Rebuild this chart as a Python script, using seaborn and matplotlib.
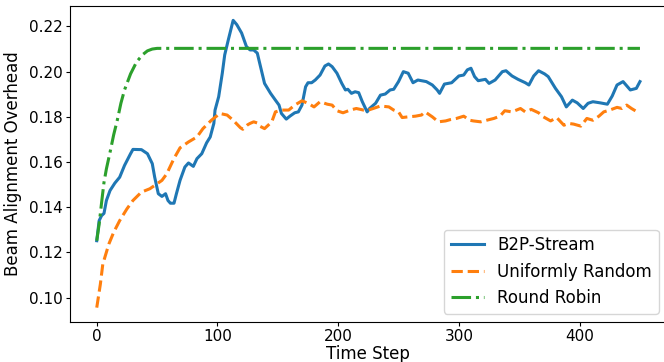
import matplotlib
matplotlib.use('Agg')
import matplotlib.pyplot as plt
import seaborn as sns
import pandas as pd
import numpy as np

# B2P-Stream
b2p_t = [0, 2, 4, 6, 8, 11, 15, 19, 23, 28, 30, 37, 42, 46, 48, 51, 54, 57, 59, 61,
         64, 66, 69, 73, 76, 80, 83, 87, 91, 94, 97, 98, 101, 104, 106, 109, 113, 116, 120, 124,
         127, 130, 133, 135, 139, 144, 148, 151, 153, 157, 160, 164, 167, 170, 173, 175, 178, 181, 185, 189,
         192, 195, 199, 203, 206, 208, 211, 214, 217, 220, 224, 226, 231, 235, 239, 243, 246, 250, 254, 258,
         262, 266, 273, 278, 282, 284, 288, 294, 300, 304, 307, 310, 313, 316, 322, 325, 330, 336, 339, 344,
         349, 355, 358, 362, 366, 371, 374, 380, 385, 389, 394, 398, 403, 407, 411, 417, 423, 427, 431, 436,
         442, 447, 450]
b2p_v = [0.1252, 0.1341, 0.1363, 0.1373, 0.1430, 0.1474, 0.1507, 0.1533, 0.1585, 0.1637,
         0.1656, 0.1655, 0.1637, 0.1593, 0.1533, 0.1460, 0.1448, 0.1460, 0.1430, 0.1418,
         0.1418, 0.1460, 0.1519, 0.1578, 0.1596, 0.1581, 0.1615, 0.1637, 0.1685, 0.1711,
         0.1771, 0.1830, 0.1889, 0.1993, 0.2074, 0.2141, 0.2227, 0.2208, 0.2171, 0.2111,
         0.2096, 0.2096, 0.2082, 0.2037, 0.1948, 0.1904, 0.1874, 0.1852, 0.1815, 0.1790,
         0.1803, 0.1818, 0.1822, 0.1852, 0.1933, 0.1951, 0.1951, 0.1963, 0.1985, 0.2025,
         0.2034, 0.2022, 0.1993, 0.1948, 0.1919, 0.1922, 0.1904, 0.1911, 0.1907, 0.1867,
         0.1822, 0.1837, 0.1860, 0.1896, 0.1901, 0.1919, 0.1922, 0.1956, 0.2000, 0.1993,
         0.1951, 0.1963, 0.1956, 0.1941, 0.1919, 0.1904, 0.1945, 0.1951, 0.1981, 0.1985,
         0.2008, 0.2015, 0.1978, 0.1960, 0.1966, 0.1948, 0.1963, 0.2000, 0.2004, 0.1981,
         0.1966, 0.1951, 0.1941, 0.1981, 0.2004, 0.1990, 0.1978, 0.1926, 0.1889, 0.1844,
         0.1874, 0.1862, 0.1837, 0.1860, 0.1867, 0.1862, 0.1856, 0.1892, 0.1941, 0.1956,
         0.1919, 0.1926, 0.1956]

# Uniformly Random
rand_t = [0, 3, 5, 10, 14, 19, 25, 30, 37, 44, 50, 54, 58, 64, 69, 76, 83, 88, 95, 102,
          108, 113, 119, 121, 125, 127, 130, 133, 135, 139, 145, 148, 153, 159, 164, 170, 175, 180, 185, 191,
          195, 199, 204, 210, 215, 221, 225, 229, 235, 242, 246, 250, 253, 258, 264, 269, 272, 278, 283, 289,
          293, 298, 304, 309, 312, 318, 323, 329, 334, 338, 344, 351, 355, 360, 366, 370, 376, 381, 387, 391,
          395, 401, 406, 411, 416, 420, 425, 431, 435, 439, 443, 449]
rand_v = [0.0956, 0.1060, 0.1148, 0.1237, 0.1289, 0.1341, 0.1393, 0.1430, 0.1467, 0.1482,
          0.1504, 0.1519, 0.1548, 0.1616, 0.1663, 0.1689, 0.1711, 0.1748, 0.1785, 0.1815,
          0.1808, 0.1785, 0.1752, 0.1745, 0.1765, 0.1771, 0.1778, 0.1773, 0.1759, 0.1748,
          0.1778, 0.1822, 0.1830, 0.1830, 0.1852, 0.1871, 0.1860, 0.1844, 0.1867, 0.1856,
          0.1852, 0.1827, 0.1818, 0.1830, 0.1837, 0.1830, 0.1830, 0.1837, 0.1848, 0.1844,
          0.1830, 0.1822, 0.1797, 0.1800, 0.1803, 0.1808, 0.1822, 0.1800, 0.1778, 0.1782,
          0.1788, 0.1793, 0.1803, 0.1785, 0.1782, 0.1778, 0.1785, 0.1793, 0.1803, 0.1827,
          0.1822, 0.1837, 0.1822, 0.1833, 0.1818, 0.1800, 0.1782, 0.1797, 0.1763, 0.1771,
          0.1768, 0.1759, 0.1793, 0.1785, 0.1803, 0.1822, 0.1830, 0.1842, 0.1837, 0.1852,
          0.1837, 0.1818]

# Round Robin
rr_t = [0, 2, 4, 6, 8, 11, 14, 17, 20, 23, 28, 33, 38, 42, 46, 50, 150, 250, 350, 450]
rr_v = [0.1252, 0.1326, 0.1420, 0.1510, 0.1570, 0.1643, 0.1720, 0.1785, 0.1860, 0.1919,
        0.1990, 0.2043, 0.2075, 0.2092, 0.2100, 0.2103, 0.2103, 0.2103, 0.2103, 0.2103]

fig = plt.figure(figsize=(6.64, 3.62), dpi=100)
ax = fig.add_axes([0.1048, 0.1105, 0.8999, 0.873])

lw = 2.2
sns.lineplot(x=b2p_t, y=b2p_v, ax=ax, color='#1f77b4', linewidth=lw, label='B2P-Stream')
sns.lineplot(x=rand_t, y=rand_v, ax=ax, color='#ff7f0e', linewidth=lw, linestyle='--',
             label='Uniformly Random')
sns.lineplot(x=rr_t, y=rr_v, ax=ax, color='#2ca02c', linewidth=lw, linestyle='-.',
             label='Round Robin')

ax.set_yticks([0.10, 0.12, 0.14, 0.16, 0.18, 0.20, 0.22])
ax.set_xticks([0, 100, 200, 300, 400])
ax.tick_params(labelsize=11, length=3, pad=2)
ax.set_xlabel('Time Step', fontsize=12, labelpad=1)
ax.set_ylabel('Beam Alignment Overhead', fontsize=12, labelpad=5)
ax.legend(loc='lower right', fontsize=12)

plt.savefig('out.png', dpi=100)
